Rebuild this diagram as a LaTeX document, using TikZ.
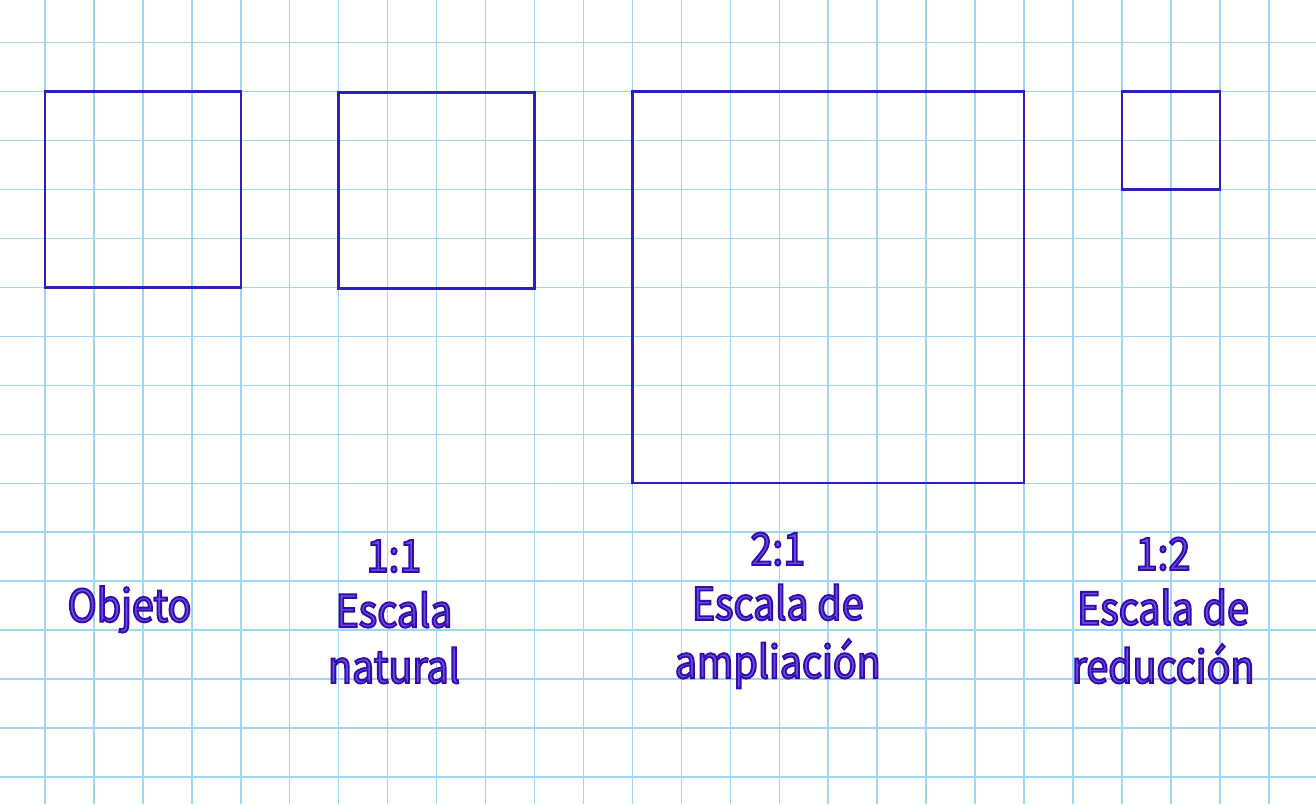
\documentclass[tikz,border=0pt]{standalone}
\usepackage{fontspec}
\setmainfont[FakeStretch=0.88]{Noto Sans CJK KR}
\usetikzlibrary{positioning}

\definecolor{gridblue}{RGB}{160,214,242}
\definecolor{squareblue}{RGB}{45,30,190}
\definecolor{labelfill}{RGB}{108,78,224}

% outlined text: fill then stroke
\newcommand{\outlined}[1]{\special{pdf:literal direct 2 Tr 1.1 w 0.2 0.04 0.67 RG}#1\special{pdf:literal direct 0 Tr}}

\tikzset{
	gridline/.style={draw=gridblue, line width=0.85pt},
	square/.style={draw=squareblue, line width=1.4pt},
	label/.style={text=labelfill, anchor=base, inner sep=0pt, font=\fontsize{26}{31}\selectfont}
}

\begin{document}
\begin{tikzpicture}
	\useasboundingbox (-0.919,-15.553) rectangle (25.965,0.872);

	% Grid
	\draw[gridline, step=1] (-0.919,-15.553) grid (25.965,0.872);

	% Object
	\draw[square] (0,-1) rectangle (4,-5);
	\node[label] (objlbl) at (1.726,-11.83) {\outlined{Objeto}};

	% 1:1 natural scale
	\draw[square] (6,-1.02) rectangle (10,-5.02);
	\node[label] (natratio) at (7.13,-10.81) {\outlined{1:1}};
	\node[label] (natline1) at (7.13,-11.94) {\outlined{Escala}};
	\node[label] (natline2) at (7.13,-13.08) {\outlined{natural}};

	% 2:1 enlargement
	\draw[square] (12,-1) rectangle (20,-9);
	\node[label] (ampratio) at (14.97,-10.67) {\outlined{2:1}};
	\node[label] (ampline1) at (14.97,-11.79) {\outlined{Escala de}};
	\node[label] (ampline2) at (14.97,-12.98) {\outlined{ampliación}};

	% 1:2 reduction
	\draw[square] (22,-1) rectangle (24,-3);
	\node[label] (redratio) at (22.84,-10.77) {\outlined{1:2}};
	\node[label] (redline1) at (22.84,-11.89) {\outlined{Escala de}};
	\node[label] (redline2) at (22.84,-13.08) {\outlined{reducción}};
\end{tikzpicture}
\end{document}
